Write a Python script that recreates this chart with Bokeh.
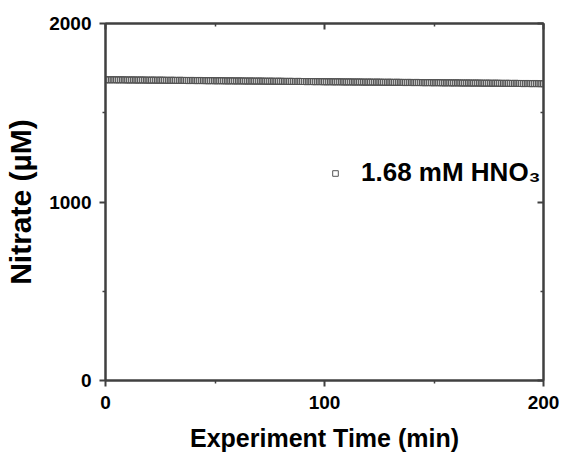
from bokeh.plotting import figure
from bokeh.models import (LinearAxis, FixedTicker, Range1d, Legend, LegendItem,
                          ColumnDataSource, CustomLabelingPolicy)
from bokeh.embed import file_html
from bokeh.resources import INLINE

# ---- data ----
time_min = list(range(0, 201))
nitrate_uM = [
    1685, 1685, 1684, 1685, 1685, 1684, 1684, 1685, 1684, 1684,
    1684, 1683, 1684, 1684, 1683, 1683, 1684, 1683, 1683, 1683,
    1682, 1683, 1683, 1682, 1682, 1683, 1682, 1682, 1682, 1681,
    1682, 1682, 1681, 1681, 1682, 1681, 1681, 1681, 1680, 1681,
    1681, 1680, 1680, 1681, 1680, 1680, 1680, 1679, 1680, 1680,
    1679, 1679, 1680, 1679, 1679, 1679, 1678, 1679, 1679, 1678,
    1678, 1679, 1678, 1678, 1678, 1677, 1678, 1678, 1677, 1677,
    1678, 1677, 1677, 1677, 1676, 1677, 1677, 1676, 1676, 1677,
    1676, 1676, 1676, 1675, 1676, 1676, 1675, 1675, 1676, 1675,
    1675, 1675, 1674, 1675, 1675, 1674, 1674, 1675, 1674, 1674,
    1674, 1673, 1674, 1674, 1673, 1673, 1674, 1673, 1673, 1673,
    1672, 1673, 1673, 1672, 1672, 1673, 1672, 1672, 1672, 1671,
    1672, 1672, 1671, 1671, 1672, 1671, 1671, 1671, 1670, 1671,
    1671, 1670, 1670, 1671, 1670, 1670, 1670, 1669, 1670, 1670,
    1669, 1669, 1670, 1669, 1669, 1669, 1668, 1669, 1669, 1668,
    1668, 1669, 1668, 1668, 1668, 1667, 1668, 1668, 1667, 1667,
    1668, 1667, 1667, 1667, 1666, 1667, 1667, 1666, 1666, 1667,
    1666, 1666, 1666, 1665, 1666, 1666, 1665, 1665, 1666, 1665,
    1665, 1665, 1664, 1665, 1665, 1664, 1664, 1665, 1664, 1664,
    1664, 1663, 1664, 1664, 1663, 1663, 1664, 1663, 1663, 1663,
    1662,
]
series_label = "1.68 mM HNO\u2083"
x_major = [0, 100, 200]
x_minor = [50, 150]
y_major = [0, 1000, 2000]
y_minor = [500, 1500]

FONT = "Liberation Sans"
AX_COLOR = "#404040"

p = figure(frame_width=438, frame_height=357, output_backend="svg",
           toolbar_location=None, x_range=Range1d(0, 200), y_range=Range1d(0, 2000),
           min_border_left=105, min_border_right=10, min_border_top=23,
           min_border_bottom=62)
p.background_fill_color = "white"
p.border_fill_color = "white"
p.grid.visible = False
p.outline_line_color = AX_COLOR
p.outline_line_width = 2

src = ColumnDataSource(dict(x=time_min, y=nitrate_uM))
r = p.scatter("x", "y", source=src, marker="square", size=6,
              fill_color=None, line_color="#555555", line_width=1)

def style(ax, major, minor, labels=True, inward=False):
    ax.ticker = FixedTicker(ticks=major, minor_ticks=minor)
    ax.axis_line_color = AX_COLOR
    ax.axis_line_width = 2
    ax.major_tick_line_color = AX_COLOR
    ax.minor_tick_line_color = AX_COLOR
    ax.major_tick_line_width = 2
    ax.minor_tick_line_width = 1.5
    if inward:
        ax.major_tick_in = 6
        ax.major_tick_out = 0
        ax.minor_tick_in = 3
        ax.minor_tick_out = 0
    else:
        ax.major_tick_in = 0
        ax.major_tick_out = 6
        ax.minor_tick_in = 0
        ax.minor_tick_out = 3
    if labels:
        ax.major_label_text_font = FONT
        ax.major_label_text_font_style = "bold"
        ax.major_label_text_font_size = "19px"
        ax.major_label_text_color = "black"
        ax.axis_label_text_font = FONT
        ax.axis_label_text_font_style = "bold"
        ax.axis_label_text_color = "black"
    else:
        ax.major_label_policy = CustomLabelingPolicy(code="return []")
        ax.major_label_standoff = 0

xa = p.xaxis[0]
style(xa, x_major, x_minor)
xa.axis_label = "Experiment Time (min)"
xa.axis_label_text_font_size = "25px"
xa.major_label_standoff = 9
xa.axis_label_standoff = 12

ya = p.yaxis[0]
style(ya, y_major, y_minor)
ya.axis_label = "Nitrate (\u00b5M)"
ya.axis_label_text_font_size = "30px"
ya.major_label_standoff = 8
ya.axis_label_standoff = 9

top = LinearAxis()
style(top, x_major, x_minor, labels=False, inward=True)
p.add_layout(top, "above")
right = LinearAxis()
style(right, y_major, y_minor, labels=False, inward=True)
p.add_layout(right, "right")

legend = Legend(items=[LegendItem(label=series_label, renderers=[r])],
                location=(223, 192))
legend.glyph_width = 14
legend.glyph_height = 14
legend.label_standoff = 19
legend.padding = 0
legend.margin = 0
legend.spacing = 0
legend.border_line_alpha = 0
legend.background_fill_alpha = 0
legend.label_text_font = FONT
legend.label_text_font_style = "bold"
legend.label_text_font_size = "26px"
legend.label_text_color = "black"
p.add_layout(legend, "center")

open("out.html", "w").write(file_html(p, INLINE))
